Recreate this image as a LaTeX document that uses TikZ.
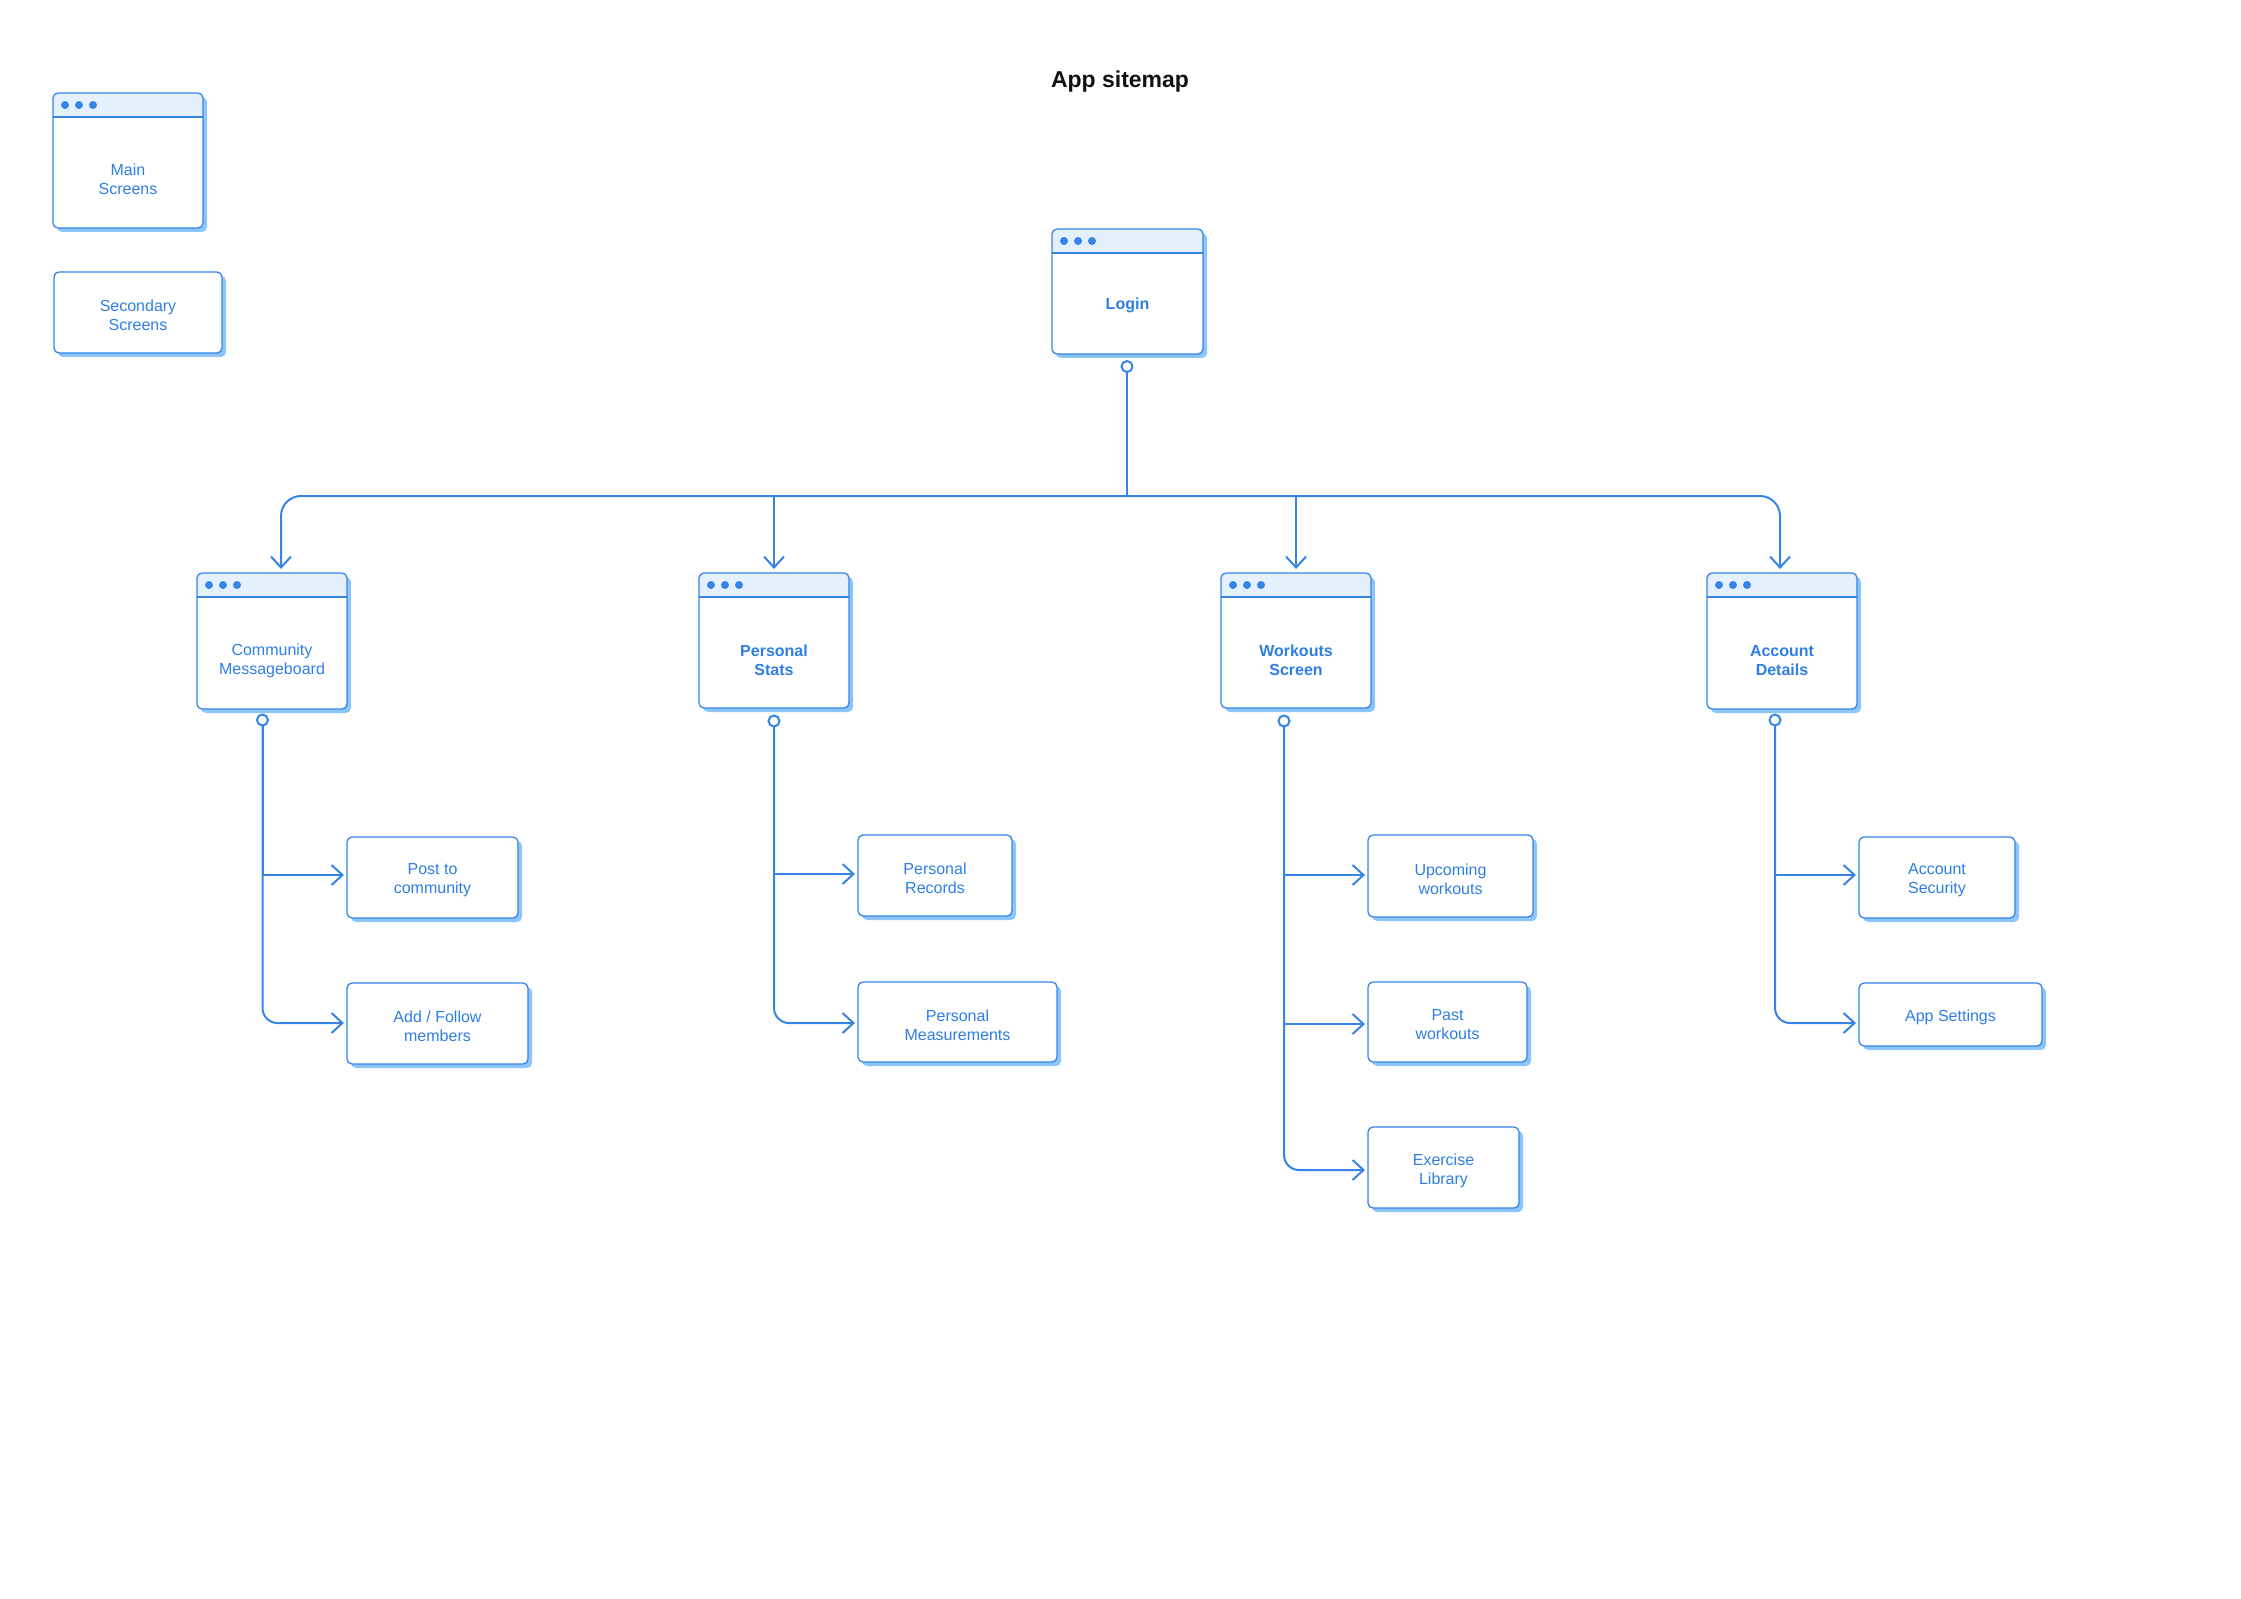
\documentclass[tikz,border=0pt]{standalone}
\usepackage{fontspec}
\setmainfont{Liberation Sans}
\usetikzlibrary{calc,arrows.meta,shadows}
\definecolor{lineblue}{HTML}{3584E6}
\definecolor{textblue}{HTML}{2F7FE3}
\definecolor{shadowblue}{HTML}{8CC5FA}
\definecolor{hdrfill}{HTML}{E4F1FD}
\definecolor{titleink}{HTML}{111111}
\newcommand\lblfont{\fontsize{8}{9.5}\selectfont}
\tikzset{
  shd/.style={general shadow={fill=shadowblue, shadow xshift=2pt, shadow yshift=-2pt}},
  winnode/.style={rectangle, fill=white, outer sep=0pt, inner sep=0pt, rounded corners=2.5pt, shd},
  subnode/.style={rectangle, draw=lineblue, line width=0.65pt, fill=white, outer sep=0pt, inner sep=0pt,
    rounded corners=2.5pt, shd},
  boxline/.style={draw=lineblue, line width=0.65pt, rounded corners=2.5pt},
  hdrline/.style={draw=lineblue, line width=0.9pt},
  lbl/.style={text=textblue, align=center, inner sep=0pt, font=\lblfont},
  ttl/.style={text=titleink, font=\fontsize{11.5}{14}\selectfont\bfseries, inner sep=0pt},
  conn/.style={draw=lineblue, line width=1pt},
  arr/.style={conn, -{Straight Barb[length=5.5pt,width=10pt]}},
  carr/.style={arr, shorten >=1.5pt},
  ring/.style={circle, draw=lineblue, fill=white, line width=1pt, minimum size=5.5pt, inner sep=0pt, outer sep=0pt}
}
% name, cx, cy, w, h, text, text y, extra font
\newcommand\mkwin[8]{%
  \node[winnode, minimum width=#4*0.5pt, minimum height=#5*0.5pt] (#1) at (#2,#3) {};
  \begin{scope}
    \clip[rounded corners=2.5pt] (#1.north west) rectangle (#1.south east);
    \fill[hdrfill] (#1.north west) rectangle ($(#1.north east)+(0,24)$);
  \end{scope}
  \draw[boxline] (#1.north west) rectangle (#1.south east);
  \draw[hdrline] ($(#1.north west)+(0,24)$) -- ($(#1.north east)+(0,24)$);
  \foreach \dx in {12,26,40} {\fill[lineblue] ($(#1.north west)+(\dx,12)$) circle[radius=2pt];}
  \node[lbl, font=\lblfont#8] (#1-t) at (#2,#7) {#6};
}
% name, cx, cy, w, h, text
\newcommand\mksub[6]{%
  \node[subnode, minimum width=#4*0.5pt, minimum height=#5*0.5pt] (#1) at (#2,#3) {};
  \node[lbl] (#1-t) at ($(#1.center)+(0,3)$) {#6};
}
\begin{document}
\begin{tikzpicture}[x=0.5pt,y=-0.5pt]
\useasboundingbox (0,0) rectangle (2241,1599);

\node[ttl] (title) at (1120,82) {App sitemap};

% legend
\mkwin{mainleg}{128}{160.5}{150}{135}{Main\\Screens}{179.5}{}
\mksub{secleg}{138}{312.5}{168}{81}{Secondary\\Screens}

% main screens
\mkwin{login}{1127.5}{291.5}{151}{125}{Login}{305}{\bfseries}
\mkwin{comm}{272}{641}{150}{136}{Community\\Messageboard}{660.5}{}
\mkwin{ps}{774}{640.5}{150}{135}{Personal\\Stats}{660}{\bfseries}
\mkwin{ws}{1296}{640.5}{150}{135}{Workouts\\Screen}{660.5}{\bfseries}
\mkwin{acct}{1782}{641}{150}{136}{Account\\Details}{660.5}{\bfseries}

% secondary screens
\mksub{post}{432.5}{877.5}{171}{81}{Post to\\community}
\mksub{addf}{437.5}{1023.5}{181}{81}{Add / Follow\\members}
\mksub{prec}{935}{875.5}{154}{81}{Personal\\Records}
\mksub{pmeas}{957.5}{1022}{199}{80}{Personal\\Measurements}
\mksub{upc}{1450.5}{876}{165}{82}{Upcoming\\workouts}
\mksub{past}{1447.5}{1022}{159}{80}{Past\\workouts}
\mksub{exlib}{1443.5}{1167.5}{151}{81}{Exercise\\Library}
\mksub{asec}{1937}{877.5}{156}{81}{Account\\Security}
\mksub{apps}{1950.5}{1014.5}{183}{63}{App Settings}

% top tree
\node[ring] (login-o) at (1127,366.5) {};
\coordinate (j) at (1127,496);
\draw[conn] (login-o) -- (j);
\draw[arr, rounded corners=10pt] (j) -| ($(comm.north)+(9,-4)$);
\draw[arr, rounded corners=10pt] (j) -| ($(acct.north)+(-2,-4)$);
\draw[arr] (ps.north |- j) -- ($(ps.north)+(0,-4)$);
\draw[arr] (ws.north |- j) -- ($(ws.north)+(0,-4)$);

% community branch
\node[ring] (comm-o) at (262.5,720) {};
\draw[carr] (comm-o) |- ($(post.west)+(0,-2.5)$);
\draw[carr, rounded corners=7.5pt] (comm-o) |- ($(addf.west)+(0,-0.5)$);

% personal stats branch
\node[ring] (ps-o) at (774,721) {};
\draw[carr] (ps-o) |- ($(prec.west)+(0,-1.5)$);
\draw[carr, rounded corners=7.5pt] (ps-o) |- ($(pmeas.west)+(0,1)$);

% workouts branch
\node[ring] (ws-o) at (1284,721) {};
\draw[carr] (ws-o) |- ($(upc.west)+(0,-1)$);
\draw[carr] (ws-o) |- ($(past.west)+(0,2)$);
\draw[carr, rounded corners=7.5pt] (ws-o) |- ($(exlib.west)+(0,2.5)$);

% account branch
\node[ring] (ad-o) at (1775,720) {};
\draw[carr] (ad-o) |- ($(asec.west)+(0,-2.5)$);
\draw[carr, rounded corners=7.5pt] (ad-o) |- ($(apps.west)+(0,8.5)$);
\end{tikzpicture}
\end{document}
